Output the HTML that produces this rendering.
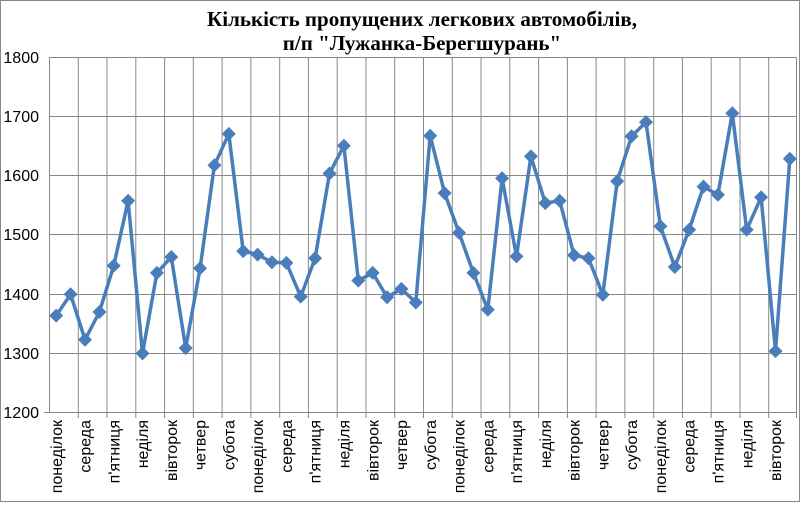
<!DOCTYPE html>
<html><head><meta charset="utf-8"><style>html,body{margin:0;padding:0;background:#fff}</style></head>
<body>
<svg width="800" height="502" viewBox="0 0 800 502" xmlns="http://www.w3.org/2000/svg">
<rect x="0.5" y="0.5" width="799" height="501" fill="#fff" stroke="#888" stroke-width="1"/>
<defs>
<marker id="d" markerUnits="userSpaceOnUse" markerWidth="16" markerHeight="16" refX="8" refY="8">
<path d="M8 1 L15 8 L8 15 L1 8Z" fill="#4a7ebb"/>
</marker>
</defs>
<g font-family="Liberation Serif, serif" font-weight="bold" font-size="21" text-anchor="middle" fill="#000">
<text x="422" y="26">Кількість пропущених легкових автомобілів,</text>
<text x="422" y="50">п/п "Лужанка-Берегшурань"</text>
</g>
<g stroke="#888" stroke-width="1">
<line x1="49" y1="57.5" x2="797" y2="57.5"/>
<line x1="49" y1="116.5" x2="797" y2="116.5"/>
<line x1="49" y1="175.5" x2="797" y2="175.5"/>
<line x1="49" y1="234.5" x2="797" y2="234.5"/>
<line x1="49" y1="294.5" x2="797" y2="294.5"/>
<line x1="49" y1="353.5" x2="797" y2="353.5"/>
<line x1="44" y1="412.5" x2="797" y2="412.5"/>
<line x1="49.5" y1="57" x2="49.5" y2="412"/>
<line x1="78.3" y1="57" x2="78.3" y2="418"/><line x1="107.0" y1="57" x2="107.0" y2="418"/><line x1="135.8" y1="57" x2="135.8" y2="418"/><line x1="164.6" y1="57" x2="164.6" y2="418"/><line x1="193.3" y1="57" x2="193.3" y2="418"/><line x1="222.1" y1="57" x2="222.1" y2="418"/><line x1="250.9" y1="57" x2="250.9" y2="418"/><line x1="279.7" y1="57" x2="279.7" y2="418"/><line x1="308.4" y1="57" x2="308.4" y2="418"/><line x1="337.2" y1="57" x2="337.2" y2="418"/><line x1="366.0" y1="57" x2="366.0" y2="418"/><line x1="394.7" y1="57" x2="394.7" y2="418"/><line x1="423.5" y1="57" x2="423.5" y2="418"/><line x1="452.3" y1="57" x2="452.3" y2="418"/><line x1="481.0" y1="57" x2="481.0" y2="418"/><line x1="509.8" y1="57" x2="509.8" y2="418"/><line x1="538.6" y1="57" x2="538.6" y2="418"/><line x1="567.4" y1="57" x2="567.4" y2="418"/><line x1="596.1" y1="57" x2="596.1" y2="418"/><line x1="624.9" y1="57" x2="624.9" y2="418"/><line x1="653.7" y1="57" x2="653.7" y2="418"/><line x1="682.4" y1="57" x2="682.4" y2="418"/><line x1="711.2" y1="57" x2="711.2" y2="418"/><line x1="740.0" y1="57" x2="740.0" y2="418"/><line x1="768.7" y1="57" x2="768.7" y2="418"/><line x1="796.5" y1="57" x2="796.5" y2="418"/>
</g>
<g font-family="Liberation Sans, sans-serif" font-size="16" text-anchor="end" fill="#000">
<text x="39" y="63">1800</text><text x="39" y="122">1700</text><text x="39" y="181">1600</text><text x="39" y="240">1500</text><text x="39" y="300">1400</text><text x="39" y="359">1300</text><text x="39" y="418">1200</text>
</g>
<polyline fill="none" stroke="#4a7ebb" stroke-width="3.5" stroke-linejoin="round" marker-start="url(#d)" marker-mid="url(#d)" marker-end="url(#d)" points="56.2,315.6 70.6,294.3 85.0,339.8 99.4,312.0 113.7,265.8 128.1,200.8 142.5,353.4 156.9,272.9 171.3,257.0 185.7,348.1 200.1,268.2 214.4,165.3 228.8,133.9 243.2,251.1 257.6,254.6 272.0,262.3 286.4,262.9 300.7,296.6 315.1,258.2 329.5,173.5 343.9,145.7 358.3,280.6 372.7,272.9 387.1,297.2 401.4,288.9 415.8,302.5 430.2,135.7 444.6,193.1 459.0,232.7 473.4,272.9 487.8,309.6 502.1,178.3 516.5,256.4 530.9,156.4 545.3,203.1 559.7,200.8 574.1,255.2 588.5,258.2 602.8,294.8 617.2,181.2 631.6,136.3 646.0,122.1 660.4,226.2 674.8,267.0 689.1,229.8 703.5,186.6 717.9,194.8 732.3,113.2 746.7,229.8 761.1,197.2 775.5,351.1 789.8,158.7"/>
<g font-family="Liberation Sans, sans-serif" font-size="16" text-anchor="end" fill="#000">
<text transform="translate(61.8,420) rotate(-90)">понеділок</text>
<text transform="translate(90.6,420) rotate(-90)">середа</text>
<text transform="translate(119.3,420) rotate(-90)">п'ятниця</text>
<text transform="translate(148.1,420) rotate(-90)">неділя</text>
<text transform="translate(176.9,420) rotate(-90)">вівторок</text>
<text transform="translate(205.7,420) rotate(-90)">четвер</text>
<text transform="translate(234.4,420) rotate(-90)">субота</text>
<text transform="translate(263.2,420) rotate(-90)">понеділок</text>
<text transform="translate(292.0,420) rotate(-90)">середа</text>
<text transform="translate(320.7,420) rotate(-90)">п'ятниця</text>
<text transform="translate(349.5,420) rotate(-90)">неділя</text>
<text transform="translate(378.3,420) rotate(-90)">вівторок</text>
<text transform="translate(407.0,420) rotate(-90)">четвер</text>
<text transform="translate(435.8,420) rotate(-90)">субота</text>
<text transform="translate(464.6,420) rotate(-90)">понеділок</text>
<text transform="translate(493.4,420) rotate(-90)">середа</text>
<text transform="translate(522.1,420) rotate(-90)">п'ятниця</text>
<text transform="translate(550.9,420) rotate(-90)">неділя</text>
<text transform="translate(579.7,420) rotate(-90)">вівторок</text>
<text transform="translate(608.4,420) rotate(-90)">четвер</text>
<text transform="translate(637.2,420) rotate(-90)">субота</text>
<text transform="translate(666.0,420) rotate(-90)">понеділок</text>
<text transform="translate(694.7,420) rotate(-90)">середа</text>
<text transform="translate(723.5,420) rotate(-90)">п'ятниця</text>
<text transform="translate(752.3,420) rotate(-90)">неділя</text>
<text transform="translate(781.1,420) rotate(-90)">вівторок</text>
</g>
</svg>
</body></html>
